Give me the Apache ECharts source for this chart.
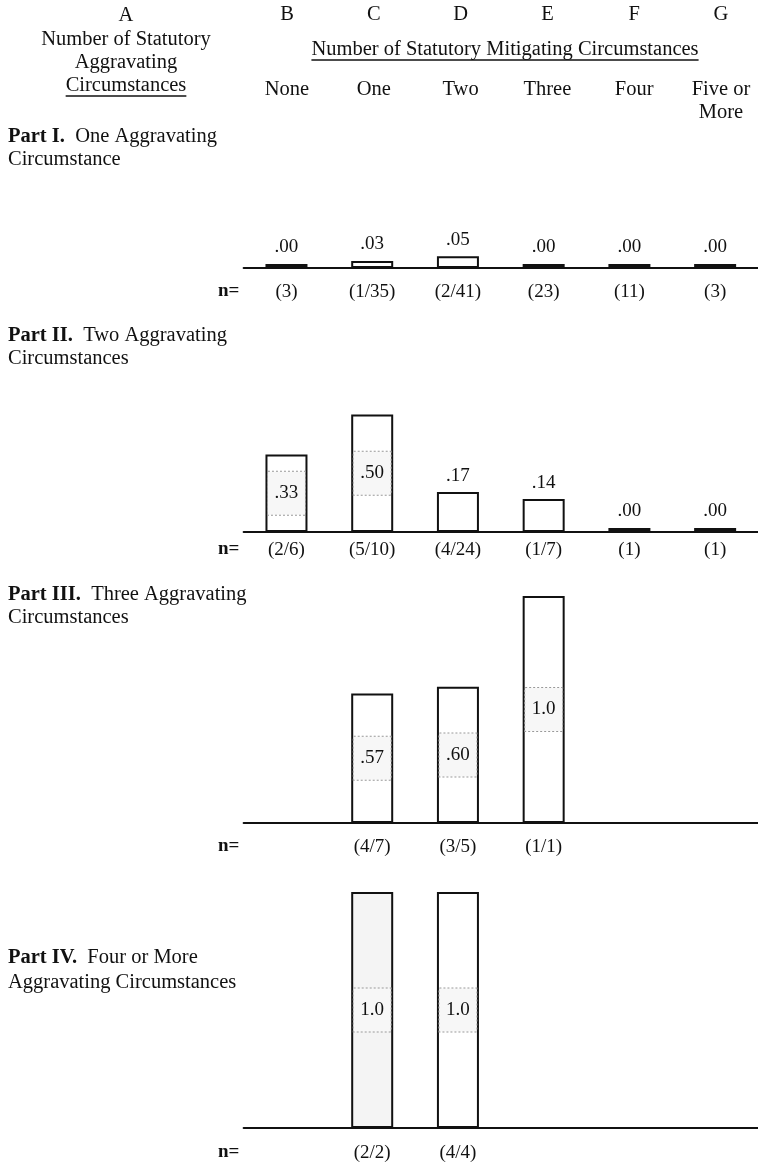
<!DOCTYPE html>
<html><head><meta charset="utf-8">
<script src="https://cdn.jsdelivr.net/npm/echarts@6.0.0/dist/echarts.min.js"></script>
<style>html,body{margin:0;padding:0;background:#fff}#c{width:758px;height:1163px}</style>
</head><body><div id="c"></div>
<script>
// ---- data ----
const columnLetters = ['B', 'C', 'D', 'E', 'F', 'G'];
const categories = ['None', 'One', 'Two', 'Three', 'Four', 'Five or\nMore'];
const leftHeader = ['A', 'Number of Statutory', 'Aggravating', 'Circumstances'];
const topTitle = 'Number of Statutory Mitigating Circumstances';
const partNames = ['Part I.', 'Part II.', 'Part III.', 'Part IV.'];
const partTexts = [
  ['  One Aggravating', 'Circumstance'],
  ['  Two Aggravating', 'Circumstances'],
  ['  Three Aggravating', 'Circumstances'],
  ['  Four or More', 'Aggravating Circumstances']
];
const part1Values = [0, 0.03, 0.05, 0, 0, 0];
const part1N = ['(3)', '(1/35)', '(2/41)', '(23)', '(11)', '(3)'];
const part2Values = [0.33, 0.50, 0.17, 0.14, 0, 0];
const part2N = ['(2/6)', '(5/10)', '(4/24)', '(1/7)', '(1)', '(1)'];
const part3Values = [null, 0.57, 0.60, 1.0, null, null];
const part3N = ['', '(4/7)', '(3/5)', '(1/1)', '', ''];
const part4Values = [null, 1.0, 1.0, null, null, null];
const part4N = ['', '(2/2)', '(4/4)', '', '', ''];

// ---- layout ----
const FONT = '"Liberation Serif", "Times New Roman", serif';
const FS = 20.5;      // header / headings
const FSN = 19;       // n= row and value labels
const INK = '#111';
const gridLeft = 243.6, band = 86.8;
const colX = i => gridLeft + band * (i + 0.5);
const parts = [
  { values: part1Values, n: part1N, baseline: 268, max: 0.1, scale: 235, nOff: 24, head: 137, lh: 23 },
  { values: part2Values, n: part2N, baseline: 532, max: 0.5, scale: 235, nOff: 18, head: 336, lh: 23 },
  { values: part3Values, n: part3N, baseline: 823, max: 1.0, scale: 227, nOff: 24, head: 595, lh: 23 },
  { values: part4Values, n: part4N, baseline: 1128, max: 1.0, scale: 236, nOff: 25, head: 958, lh: 25 }
];
const shaded = { '3-1': '#f4f4f4' };

const fmt = v => v >= 1 ? v.toFixed(1) : v.toFixed(2).replace(/^0/, '');

const cv = document.createElement('canvas').getContext('2d');
function textW(t, size) { cv.font = size + 'px ' + FONT; return cv.measureText(t).width; }

const grids = [], xAxes = [], yAxes = [], series = [], graphics = [];
parts.forEach((p, k) => {
  const top = p.baseline - p.scale * p.max;
  grids.push({ left: gridLeft, width: band * 6, top: top, height: p.baseline - top });
  xAxes.push({
    type: 'category', gridIndex: k, data: p.n,
    axisLine: { show: true, lineStyle: { color: INK, width: 2 } },
    axisTick: { show: false },
    axisLabel: { interval: 0, margin: p.nOff - 9.5, color: INK, fontFamily: FONT, fontSize: FSN }
  });
  yAxes.push({ type: 'value', gridIndex: k, min: 0, max: p.max, show: false, splitLine: { show: false } });
  series.push({
    type: 'bar', xAxisIndex: k, yAxisIndex: k, barWidth: 42, barMinHeight: 4,
    data: p.values.map((v, i) => {
      if (v === null) return '-';
      const inside = v >= 0.3;
      return {
        value: v,
        itemStyle: { color: v === 0 ? INK : (shaded[k + '-' + i] || '#fff'), borderColor: INK, borderWidth: v === 0 ? 0 : 2 },
        label: inside ? {
          show: true, position: 'inside', formatter: fmt(v), color: INK, fontFamily: FONT, fontSize: FSN,
          width: 37, align: 'center', lineHeight: 21, padding: [11, 0],
          backgroundColor: '#f7f7f7', borderColor: '#999', borderWidth: 1, borderType: 'dotted'
        } : {
          show: true, position: 'top', distance: 7, formatter: fmt(v), color: INK, fontFamily: FONT, fontSize: FSN
        }
      };
    }),
    animation: false
  });
  graphics.push({ type: 'text', left: 218, top: p.baseline + p.nOff - 10.5,
    style: { text: 'n=', font: 'bold ' + FSN + 'px ' + FONT, fill: INK } });
  graphics.push({ type: 'text', left: 8, top: p.head - p.lh / 2,
    style: { text: '{b|' + partNames[k] + '}' + partTexts[k][0] + '\n' + partTexts[k][1],
      font: FS + 'px ' + FONT, fill: INK, lineHeight: p.lh,
      rich: { b: { fontWeight: 'bold', fontFamily: FONT, fontSize: FS, fill: INK, lineHeight: p.lh } } } });
});

// header
const headerX = 126;
const headerY = [16, 40, 63, 86];
leftHeader.forEach((t, i) => {
  graphics.push({ type: 'text', x: headerX, y: headerY[i],
    style: { text: t, font: FS + 'px ' + FONT, fill: INK, align: 'center', verticalAlign: 'middle' } });
});
const uw1 = textW(leftHeader[3], FS);
graphics.push({ type: 'line', shape: { x1: headerX - uw1 / 2, y1: 96, x2: headerX + uw1 / 2, y2: 96 }, style: { stroke: INK, lineWidth: 1.3 } });
graphics.push({ type: 'text', x: 505, y: 50,
  style: { text: topTitle, font: FS + 'px ' + FONT, fill: INK, align: 'center', verticalAlign: 'middle' } });
const uw2 = textW(topTitle, FS);
graphics.push({ type: 'line', shape: { x1: 505 - uw2 / 2, y1: 60, x2: 505 + uw2 / 2, y2: 60 }, style: { stroke: INK, lineWidth: 1.3 } });
columnLetters.forEach((t, i) => {
  graphics.push({ type: 'text', x: colX(i), y: 15,
    style: { text: t, font: FS + 'px ' + FONT, fill: INK, align: 'center', verticalAlign: 'middle' } });
  graphics.push({ type: 'text', x: colX(i), y: 78,
    style: { text: categories[i], font: FS + 'px ' + FONT, fill: INK, align: 'center', verticalAlign: 'top', lineHeight: 23 } });
});

const chart = echarts.init(document.getElementById('c'), null, { renderer: 'canvas' });
chart.setOption({
  backgroundColor: '#fff', animation: false,
  grid: grids, xAxis: xAxes, yAxis: yAxes, series: series, graphic: graphics
});
</script></body></html>
